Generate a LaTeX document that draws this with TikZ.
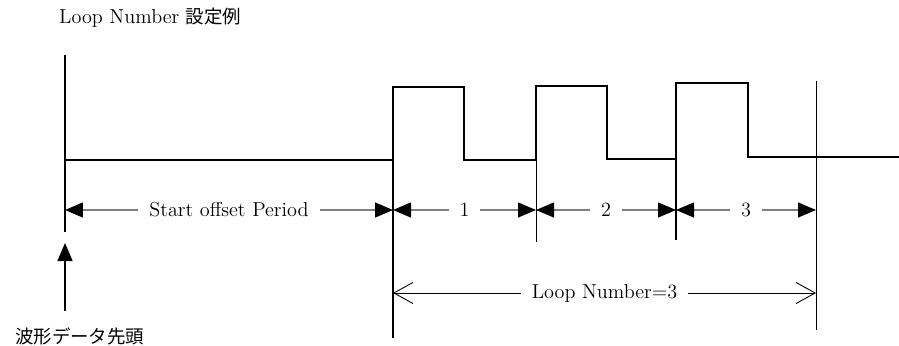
\documentclass[tikz,border=0pt]{standalone}
\usepackage{fontspec}
\newfontfamily\jp{Noto Sans CJK JP}
\usetikzlibrary{arrows.meta}

\begin{document}
\begin{tikzpicture}[
  x=0.02cm, y=-0.02cm,
  font=\fontsize{11.5}{13}\selectfont,
  wave/.style={line width=1.6pt, line join=miter},
  guide/.style={line width=1pt},
  thinguide/.style={line width=0.5pt},
  dimarrow/.style={gray, line width=0.6pt,
    {Triangle[black, length=0.36cm, width=0.3cm]}-{Triangle[black, length=0.36cm, width=0.3cm]}},
  looparrow/.style={line width=0.5pt,
    {Straight Barb[length=0.38cm, width=0.42cm]}-{Straight Barb[length=0.38cm, width=0.42cm]}},
  dimlabel/.style={fill=white, text=black, inner xsep=0.22cm, inner ysep=1pt}
]
\useasboundingbox (0,0) rectangle (899,345);

% Title and origin label.
\node[anchor=west] (title) at (53,18) {Loop Number {\jp\fontsize{10.5}{12}\selectfont 設定例}};
\node[anchor=west, font=\jp\fontsize{10.5}{12}\selectfont] (head) at (9,336) {波形データ先頭};

% Guide lines.
\coordinate (g0top) at (65,55);   \coordinate (g0bot) at (65,232);
\coordinate (g1top) at (393,87);  \coordinate (g1bot) at (393,338);
\coordinate (g2top) at (536,160); \coordinate (g2bot) at (536,242);
\coordinate (g3top) at (676,159); \coordinate (g3bot) at (676,240);
\coordinate (g4top) at (816,81);  \coordinate (g4bot) at (816,330);
\draw[guide] (g0top) -- (g0bot);
\draw[guide] (g1top) -- (g1bot);
\draw[thinguide] (g2top) -- (g2bot);
\draw[guide] (g3top) -- (g3bot);
\draw[thinguide] (g4top) -- (g4bot);

% Waveform.
\draw[wave] (65,160) -- (393,160) -- (393,87) -- (464,87) -- (464,160)
  -- (536,160) -- (536,86) -- (607,86) -- (607,159) -- (676,159)
  -- (676,83) -- (748,83) -- (748,157) -- (899,157);

% Dimension arrows.
\coordinate (d0) at (65,210);
\coordinate (d1) at (393,210);
\coordinate (d2) at (536,210);
\coordinate (d3) at (676,210);
\coordinate (d4) at (816,210);
\draw[dimarrow] (d0) -- node[dimlabel] (offset) {Start offset Period} (d1);
\draw[dimarrow] (d1) -- node[dimlabel] (n1) {1} (d2);
\draw[dimarrow] (d2) -- node[dimlabel] (n2) {2} (d3);
\draw[dimarrow] (d3) -- node[dimlabel] (n3) {3} (d4);

% Loop number span.
\coordinate (l1) at (393,293);
\coordinate (l2) at (816,293);
\draw[looparrow] (l1) -- node[dimlabel] (loop) {Loop Number=3} (l2);

% Head marker.
\coordinate (tail) at (65,311);
\coordinate (tip) at (65,243);
\draw[line width=0.8pt, -{Triangle[length=0.36cm, width=0.3cm]}] (tail) -- (tip);
\end{tikzpicture}
\end{document}
